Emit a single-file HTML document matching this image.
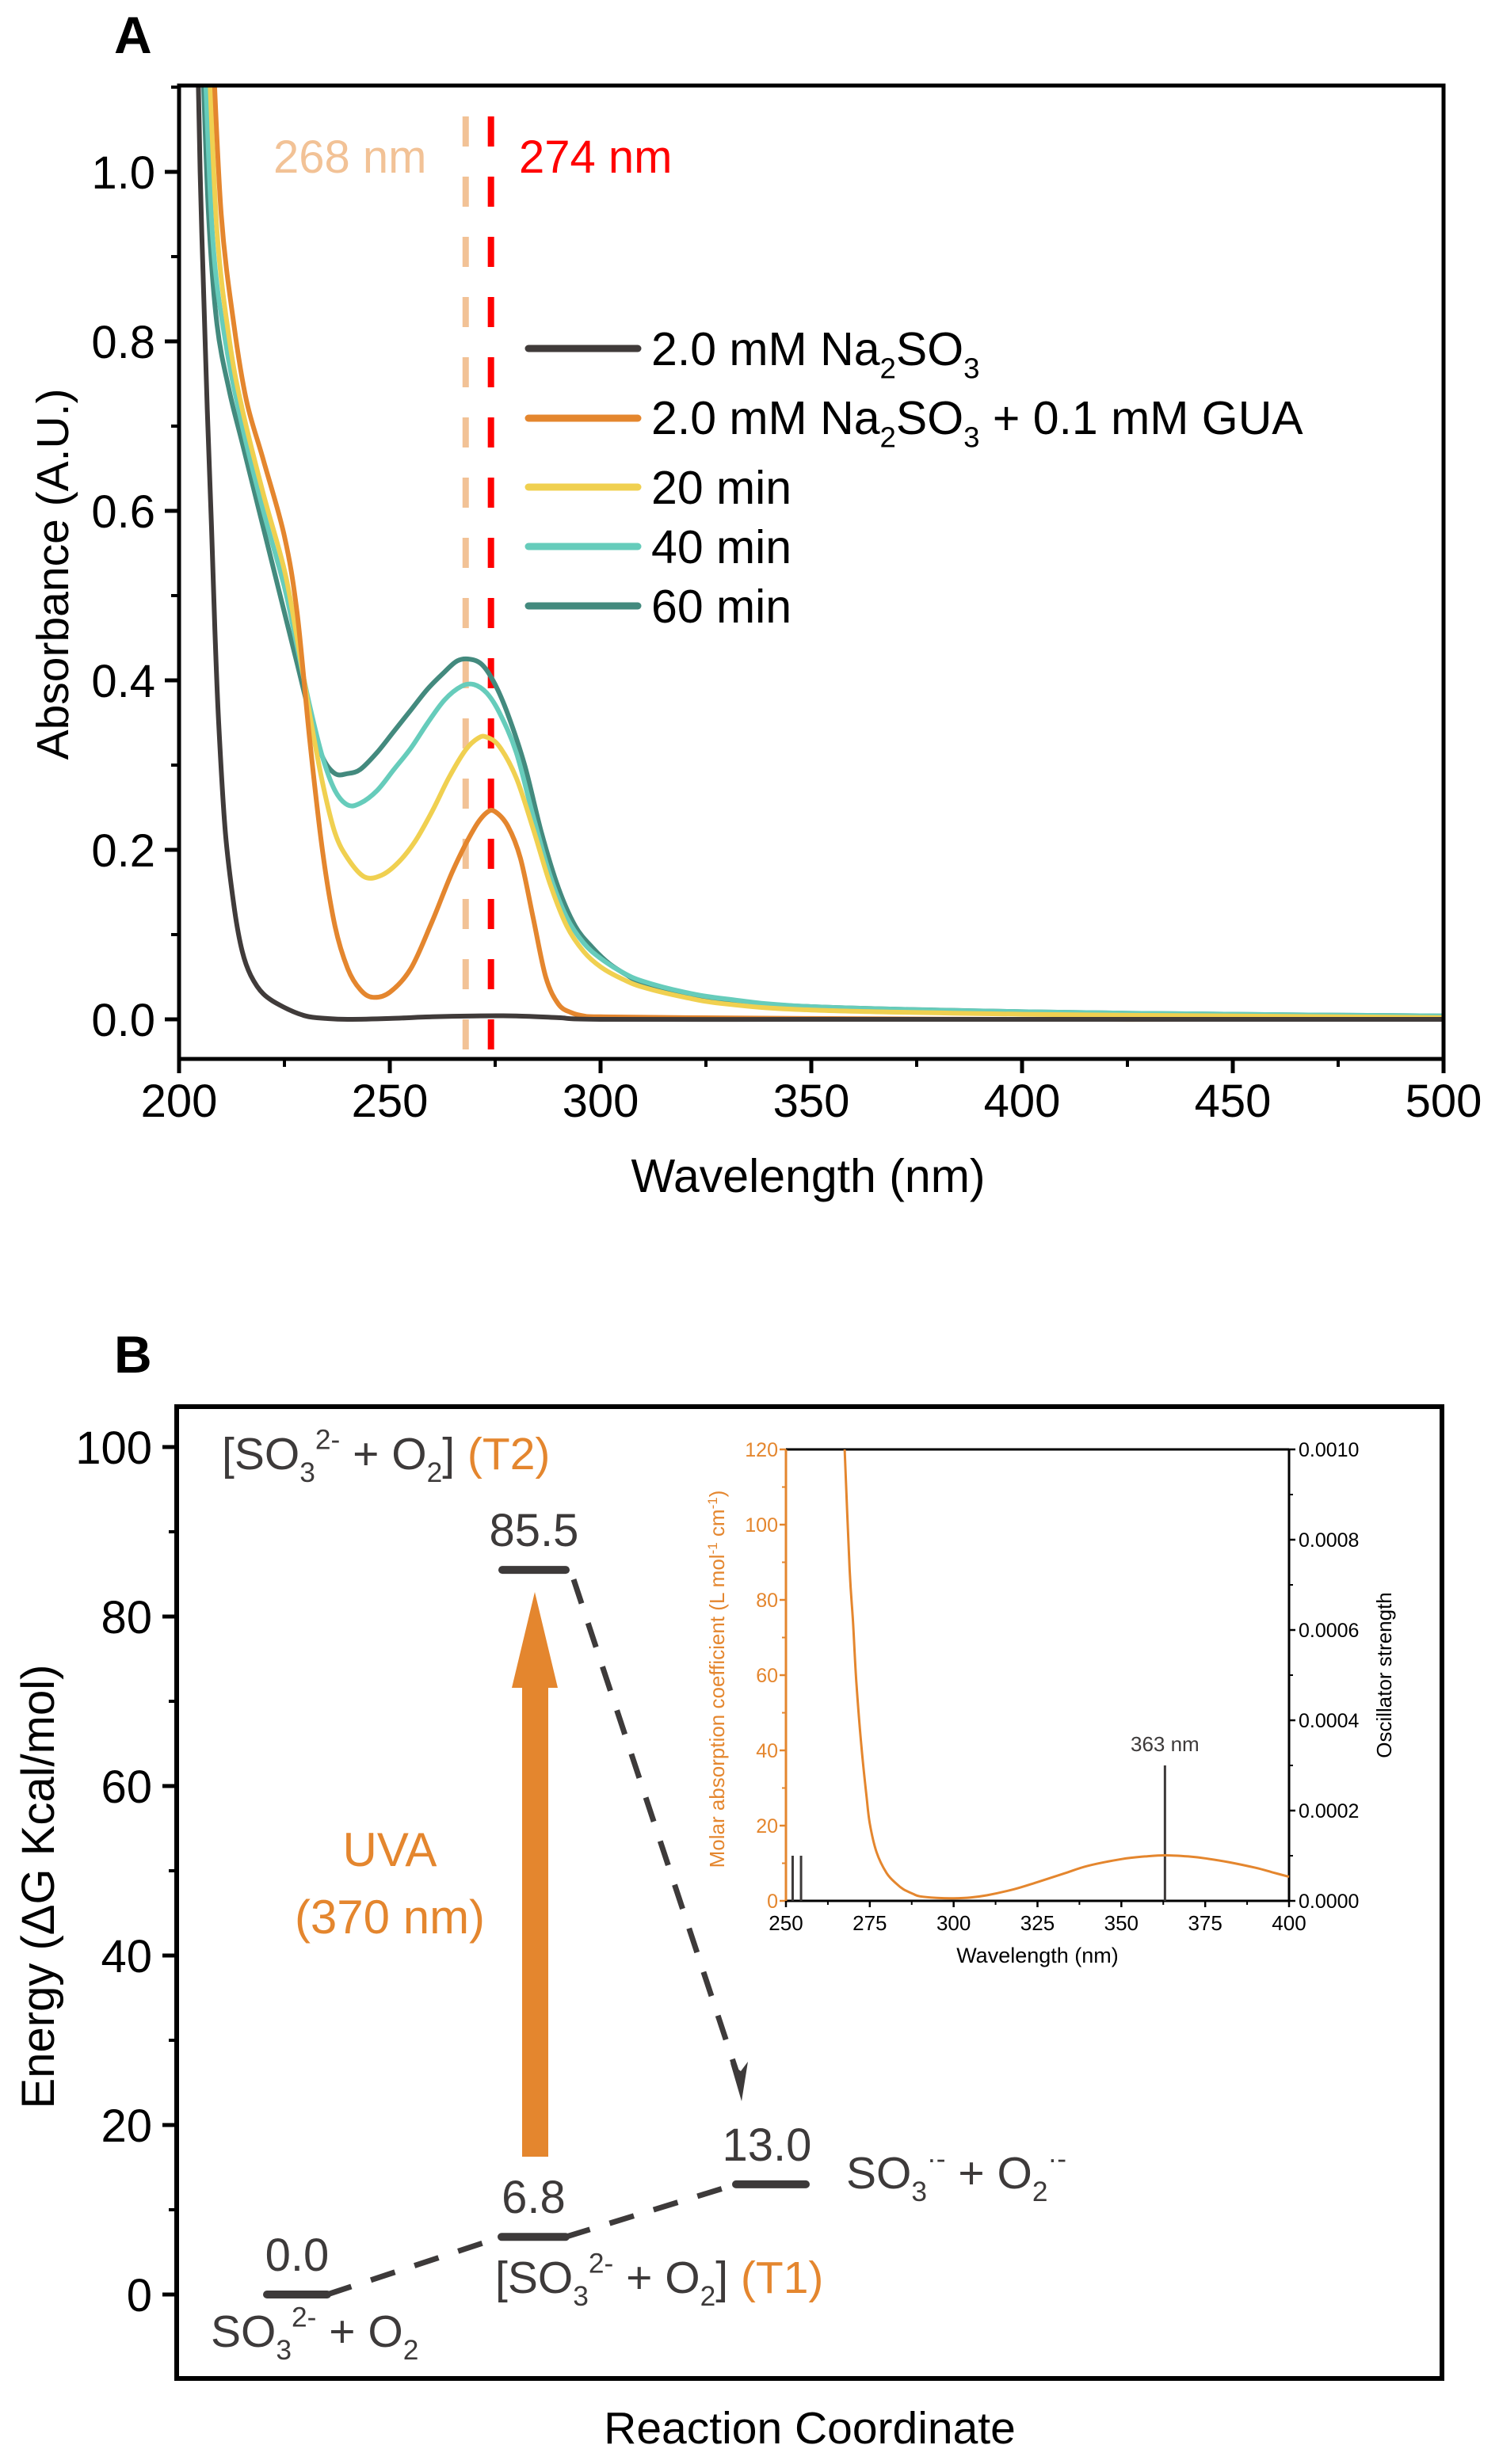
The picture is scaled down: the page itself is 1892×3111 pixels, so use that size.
<!DOCTYPE html>
<html><head><meta charset="utf-8"><style>
html,body{margin:0;padding:0;background:#fff}
svg{display:block}
text{font-family:"Liberation Sans",Arial,sans-serif}
</style></head><body>
<svg id="fig" width="1892" height="3111" viewBox="0 0 1892 3111" xmlns="http://www.w3.org/2000/svg">
<g id="pa"></g>
<g id="pb"></g>
</svg>
<script>
// ---------- Panel A data ----------
const nmBlack=[204,205,205.7,206.7,207.7,208.5,209.4,211,213.2,215,217,220,224.6,230,235,240,250,260,270,280,290,300,350,400,450,500];
const absBlack=[1.25,1.0,0.88,0.72,0.58,0.46,0.35,0.22,0.128,0.08,0.052,0.03,0.015,0.004,0.001,0.0,0.001,0.003,0.004,0.004,0.002,0.0,0.0,0.0,0.0,0.0];
const nmOrange=[208,210,213,216,220,225,228,231,234,237,240,243,246,250,255,260,265,270,273,275,278,281,284,287,290,293,296,300,320,350,400,450,500];
const absOrange=[1.15,0.95,0.82,0.73,0.66,0.57,0.48,0.33,0.2,0.11,0.06,0.035,0.026,0.032,0.06,0.115,0.176,0.225,0.244,0.245,0.228,0.19,0.12,0.05,0.018,0.008,0.004,0.003,0.002,0.001,0.0,0.0,0.0];
const nm20=[207,209,212,215,220,225,228,231,234,237,240,244,248,252,256,260,264,268,271,273,276,280,284,288,292,296,300,305,310,320,330,350,400,450,500];
const abs20=[1.15,0.93,0.8,0.72,0.62,0.53,0.45,0.36,0.28,0.22,0.19,0.168,0.17,0.185,0.21,0.245,0.285,0.318,0.332,0.333,0.322,0.285,0.225,0.16,0.11,0.08,0.062,0.048,0.038,0.026,0.018,0.011,0.006,0.004,0.002];
const nm40=[206,208,211,215,220,225,228,231,234,237,240,243,247,251,255,259,263,267,270,273,276,280,284,288,292,296,300,305,310,320,330,350,400,450,500];
const abs40=[1.15,0.92,0.8,0.7,0.6,0.51,0.44,0.37,0.31,0.27,0.253,0.255,0.27,0.295,0.32,0.35,0.377,0.393,0.395,0.385,0.362,0.315,0.24,0.17,0.12,0.09,0.072,0.056,0.045,0.032,0.024,0.015,0.009,0.006,0.004];
const nm60=[205.5,207,209,212,215,220,225,228,231,234,237,240,243,247,251,255,259,263,266,269,272,275,278,282,286,290,294,298,302,306,310,320,330,350,400,450,500];
const abs60=[1.15,0.95,0.82,0.74,0.68,0.58,0.48,0.42,0.36,0.31,0.29,0.29,0.295,0.315,0.34,0.365,0.39,0.41,0.423,0.425,0.418,0.395,0.36,0.3,0.22,0.155,0.11,0.085,0.066,0.053,0.043,0.031,0.023,0.015,0.009,0.006,0.004];
const xTicksA=[200,250,300,350,400,450,500];
const yTicksA=[0.0,0.2,0.4,0.6,0.8,1.0];
const legendLabels=["2.0 mM Na2SO3","2.0 mM Na2SO3 + 0.1 mM GUA","20 min","40 min","60 min"];
const markerLines=[268,274];
// ---------- Panel B data ----------
const levelNames=["reactant","T1","T2","product"];
const levelEnergy=[0.0,6.8,85.5,13.0];
const yTicksB=[0,20,40,60,80,100];
// inset
const insetNm=[267.5,269,270,271,272.5,274,275,277,280,283,285,288,290,295,300,305,310,318,325,333,340,350,357,363,370,375,382,390,395,400];
const insetEps=[120,88,74,58,41,28,20.6,13,7.4,4.5,3.1,1.8,1.2,0.8,0.7,0.9,1.5,3.1,5,7.3,9.3,11.1,11.8,12.1,11.8,11.3,10.3,8.8,7.6,6.4];
const stickNm=[252,254.5,363];
const stickF=[0.0001,0.0001,0.0003];
const insetXTicks=[250,275,300,325,350,375,400];
const insetYTicks=[0,20,40,60,80,100,120];
const insetY2Ticks=[0.0000,0.0002,0.0004,0.0006,0.0008,0.0010];

const NS="http://www.w3.org/2000/svg";
function mk(parent,tag,attrs){const e=document.createElementNS(NS,tag);for(const k in attrs)e.setAttribute(k,attrs[k]);parent.appendChild(e);return e;}
function smooth(pts){let d="M"+pts[0][0].toFixed(1)+","+pts[0][1].toFixed(1);
 for(let i=0;i<pts.length-1;i++){const p0=pts[i-1]||pts[i],p1=pts[i],p2=pts[i+1],p3=pts[i+2]||p2;
  const c1=[p1[0]+(p2[0]-p0[0])/6,p1[1]+(p2[1]-p0[1])/6],c2=[p2[0]-(p3[0]-p1[0])/6,p2[1]-(p3[1]-p1[1])/6];
  d+=" C"+c1[0].toFixed(1)+","+c1[1].toFixed(1)+" "+c2[0].toFixed(1)+","+c2[1].toFixed(1)+" "+p2[0].toFixed(1)+","+p2[1].toFixed(1);}
 return d;}
function chem(parent,x,y,parts,size,name){const t=mk(parent,'text',{x:x,y:y,'font-size':size});
 
 
 parts.forEach(p=>{const s=mk(t,'tspan',{fill:p.c||'#3d3a3a'});
  if(p.sub){s.setAttribute('font-size',size*0.62);s.setAttribute('dy',size*0.28);}
  if(p.sup){s.setAttribute('font-size',size*0.62);s.setAttribute('dy',-size*0.45);}
  if(p.back){s.setAttribute('dy',p.back);}
  s.textContent=p.t;});return t;}

// ================= Panel A =================
const A=document.getElementById('pa');
const L=226,R=1822,T=108,B=1337;
const X=v=>L+(v-200)*(R-L)/300;
const Y=v=>1287-v*1070;
mk(A,'clipPath',{id:'clipA'}).appendChild(document.createElementNS(NS,'rect'));
const cr=A.querySelector('#clipA rect');cr.setAttribute('x',L);cr.setAttribute('y',T);cr.setAttribute('width',R-L);cr.setAttribute('height',B-T);
let t=mk(A,'text',{x:144,y:67,'font-size':66,'font-weight':'bold'});t.textContent='A';


const mcol=['#f2c296','#ff0000'];
markerLines.forEach((m,i)=>{const l=mk(A,'line',{x1:X(m),x2:X(m),y1:147,y2:B,stroke:mcol[i],'stroke-width':8,'stroke-dasharray':'38 38'});
 
 });
t=mk(A,'text',{x:345,y:218,'font-size':58,fill:'#f2c296'});t.textContent='268 nm';


t=mk(A,'text',{x:655,y:218,'font-size':58,fill:'#ff0000'});t.textContent='274 nm';


const series=[[nmBlack,absBlack,'#403b3a','curve-na2so3'],[nmOrange,absOrange,'#e4862e','curve-na2so3-gua'],[nm20,abs20,'#f0d050','curve-20min'],[nm40,abs40,'#66ccbb','curve-40min'],[nm60,abs60,'#438a7e','curve-60min']];
const cg=mk(A,'g',{'clip-path':'url(#clipA)'});
[4,3,2,1,0].forEach(i=>{const s=series[i];const pts=s[0].map((n,j)=>[X(n),Y(s[1][j])]);
 const p=mk(cg,'path',{d:smooth(pts),fill:'none',stroke:s[2],'stroke-width':6,'stroke-linejoin':'round'});
 
 });
const ly=[440,528,615,690,765];
const LF=59;
series.forEach((s,i)=>{const l=mk(A,'line',{x1:667,x2:805,y1:ly[i],y2:ly[i],stroke:s[2],'stroke-width':9,'stroke-linecap':'round'});
 
 });
chem(A,822,461,[{t:'2.0 mM Na'},{t:'2',sub:1},{t:'SO',back:-LF*0.28},{t:'3',sub:1}],LF,'legend-entry-1');
chem(A,822,548,[{t:'2.0 mM Na'},{t:'2',sub:1},{t:'SO',back:-LF*0.28},{t:'3',sub:1},{t:' + 0.1 mM GUA',back:-LF*0.28}],LF,'legend-entry-2');
[2,3,4].forEach(i=>{const tt=mk(A,'text',{x:822,y:ly[i]+21,'font-size':LF,fill:'#000'});tt.textContent=legendLabels[i];
 
 });
A.querySelectorAll('text tspan').forEach(s=>{s.setAttribute('fill','#000');});
const fr=mk(A,'rect',{x:L,y:T,width:R-L,height:B-T,fill:'none',stroke:'#000','stroke-width':5});


yTicksA.forEach(v=>{mk(A,'line',{x1:L-18,x2:L,y1:Y(v),y2:Y(v),stroke:'#000','stroke-width':5});
 const tx=mk(A,'text',{x:196,y:Y(v)+21,'font-size':58,'text-anchor':'end'});tx.textContent=v.toFixed(1);
 
 });
for(let v=0.1;v<1.1;v+=0.2)mk(A,'line',{x1:L-10,x2:L,y1:Y(v),y2:Y(v),stroke:'#000','stroke-width':4});
xTicksA.forEach(v=>{mk(A,'line',{x1:X(v),x2:X(v),y1:B,y2:B+18,stroke:'#000','stroke-width':5});
 const tx=mk(A,'text',{x:X(v),y:1410,'font-size':58,'text-anchor':'middle'});tx.textContent=v;
 
 });
for(let v=225;v<500;v+=50)mk(A,'line',{x1:X(v),x2:X(v),y1:B,y2:B+10,stroke:'#000','stroke-width':4});
t=mk(A,'text',{x:1020,y:1505,'font-size':59,'text-anchor':'middle'});t.textContent='Wavelength (nm)';


t=mk(A,'text',{x:0,y:0,'font-size':57,'text-anchor':'middle',transform:'translate(86,725) rotate(-90)'});t.textContent='Absorbance (A.U.)';



// ================= Panel B =================
const P=document.getElementById('pb');
const BL=223,BR=1820,BT=1776,BB=3003;
const YE=v=>2897-v*10.7;
t=mk(P,'text',{x:144,y:1733,'font-size':66,'font-weight':'bold'});t.textContent='B';


const fb=mk(P,'rect',{x:BL,y:BT,width:BR-BL,height:BB-BT,fill:'none',stroke:'#000','stroke-width':6});


yTicksB.forEach(v=>{mk(P,'line',{x1:BL-18,x2:BL,y1:YE(v),y2:YE(v),stroke:'#000','stroke-width':5});
 const tx=mk(P,'text',{x:192,y:YE(v)+21,'font-size':58,'text-anchor':'end'});tx.textContent=v;
 
 });
for(let v=10;v<100;v+=20)mk(P,'line',{x1:BL-10,x2:BL,y1:YE(v),y2:YE(v),stroke:'#000','stroke-width':4});
t=mk(P,'text',{x:0,y:0,'font-size':58,'text-anchor':'middle',transform:'translate(68,2382) rotate(-90)'});t.textContent='Energy (ΔG Kcal/mol)';


t=mk(P,'text',{x:1022,y:3085,'font-size':57,'text-anchor':'middle'});t.textContent='Reaction Coordinate';


const lvx=[[337,413],[633,714],[634,714],[929,1017]];
levelEnergy.forEach((e,i)=>{const l=mk(P,'line',{x1:lvx[i][0],x2:lvx[i][1],y1:YE(e),y2:YE(e),stroke:'#3d3a3a','stroke-width':10,'stroke-linecap':'round'});
 
 
 const tx=mk(P,'text',{x:(lvx[i][0]+lvx[i][1])/2+(i==3?-5:0),y:YE(e)-30,'font-size':58,'text-anchor':'middle',fill:'#3d3a3a'});tx.textContent=e.toFixed(1);
 
 });
const dash={stroke:'#3d3a3a','stroke-width':7,'stroke-dasharray':'32 26',fill:'none'};
let dl=mk(P,'line',Object.assign({x1:lvx[0][1],y1:YE(levelEnergy[0]),x2:lvx[1][0],y2:YE(levelEnergy[1])},dash));


dl=mk(P,'line',Object.assign({x1:lvx[1][1],y1:YE(levelEnergy[1]),x2:lvx[3][0],y2:YE(levelEnergy[3])},dash));


const tipY=2653,tipX=936;
dl=mk(P,'line',Object.assign({x1:lvx[2][1]+10,y1:YE(levelEnergy[2])+12,x2:tipX-4,y2:tipY-30},dash));


const ah=mk(P,'polygon',{points:`${tipX},${tipY} ${tipX-14},${tipY-48} ${tipX-1},${tipY-38} ${tipX+8},${tipY-50}`,fill:'#3d3a3a'});


const ua=mk(P,'polygon',{points:'659,2723 692,2723 692,2131 704,2131 675,2010 646,2131 659,2131',fill:'#e4862e'});


t=mk(P,'text',{x:492,y:2356,'font-size':60,'text-anchor':'middle',fill:'#e4862e'});t.textContent='UVA';


t=mk(P,'text',{x:492,y:2441,'font-size':60,'text-anchor':'middle',fill:'#e4862e'});t.textContent='(370 nm)';


const f=57,dn=-f*0.28,up=f*0.45;
chem(P,280,1855,[{t:'[SO'},{t:'3',sub:1},{t:'2-',sup:1,back:-(f*0.28+f*0.45)},{t:' + O',back:up},{t:'2',sub:1},{t:']',back:dn},{t:' (T2)',c:'#e4862e'}],f,'species-t2');
chem(P,625,2895,[{t:'[SO'},{t:'3',sub:1},{t:'2-',sup:1,back:-(f*0.28+f*0.45)},{t:' + O',back:up},{t:'2',sub:1},{t:']',back:dn},{t:' (T1)',c:'#e4862e'}],f,'species-t1');
chem(P,266,2963,[{t:'SO'},{t:'3',sub:1},{t:'2-',sup:1,back:-(f*0.28+f*0.45)},{t:' + O',back:up},{t:'2',sub:1}],f,'species-reactant');
chem(P,1068,2763,[{t:'SO'},{t:'3',sub:1},{t:'·-',sup:1,back:-(f*0.28+f*0.45)},{t:' + O',back:up},{t:'2',sub:1},{t:'·-',sup:1,back:-(f*0.28+f*0.45)}],f,'species-product');
// ---------- Inset ----------
const I=mk(P,'g',{});


const IL=992,IR=1627,IT=1830,IB=2400;
const IX=v=>IL+(v-250)*(IR-IL)/150;
const IY=v=>IB-v*(IB-IT)/120;
const IY2=v=>IB-v*(IB-IT)/0.001;
const O='#e4862e';
mk(I,'line',{x1:IL,x2:IR,y1:IT,y2:IT,stroke:'#000','stroke-width':3});
mk(I,'line',{x1:IL,x2:IR,y1:IB,y2:IB,stroke:'#000','stroke-width':3});
mk(I,'line',{x1:IR,x2:IR,y1:IT,y2:IB,stroke:'#000','stroke-width':3});
mk(I,'line',{x1:IL,x2:IL,y1:IT,y2:IB,stroke:O,'stroke-width':3});
insetYTicks.forEach(v=>{mk(I,'line',{x1:IL-8,x2:IL,y1:IY(v),y2:IY(v),stroke:O,'stroke-width':2.5});
 const tx=mk(I,'text',{x:IL-10,y:IY(v)+9,'font-size':25,'text-anchor':'end',fill:O});tx.textContent=v;
 
 });
for(let v=10;v<120;v+=20)mk(I,'line',{x1:IL-5,x2:IL,y1:IY(v),y2:IY(v),stroke:O,'stroke-width':2});
insetY2Ticks.forEach(v=>{mk(I,'line',{x1:IR,x2:IR+8,y1:IY2(v),y2:IY2(v),stroke:'#000','stroke-width':2.5});
 const tx=mk(I,'text',{x:IR+12,y:IY2(v)+9,'font-size':25,fill:'#000'});tx.textContent=v.toFixed(4);
 
 });
for(let v=0.0001;v<0.001;v+=0.0002)mk(I,'line',{x1:IR,x2:IR+5,y1:IY2(v),y2:IY2(v),stroke:'#000','stroke-width':2});
insetXTicks.forEach(v=>{mk(I,'line',{x1:IX(v),x2:IX(v),y1:IB,y2:IB+8,stroke:'#000','stroke-width':2.5});
 const tx=mk(I,'text',{x:IX(v),y:IB+37,'font-size':26,'text-anchor':'middle'});tx.textContent=v;
 
 });
for(let v=262.5;v<400;v+=25)mk(I,'line',{x1:IX(v),x2:IX(v),y1:IB,y2:IB+5,stroke:'#000','stroke-width':2});
t=mk(I,'text',{x:(IL+IR)/2,y:2478,'font-size':27,'text-anchor':'middle'});t.textContent='Wavelength (nm)';


t=mk(I,'text',{x:0,y:0,'font-size':26,'text-anchor':'middle',fill:O,transform:'translate(914,2120) rotate(-90)'});


t.innerHTML='Molar absorption coefficient (L mol<tspan dy="-9" font-size="17">-1</tspan><tspan dy="9"> cm</tspan><tspan dy="-9" font-size="17">-1</tspan><tspan dy="9">)</tspan>';
t=mk(I,'text',{x:0,y:0,'font-size':26,'text-anchor':'middle',transform:'translate(1756,2115) rotate(-90)'});t.textContent='Oscillator strength';


stickNm.forEach((n,i)=>{const l=mk(I,'line',{x1:IX(n),x2:IX(n),y1:IB,y2:IY2(stickF[i]),stroke:'#3d3a3a','stroke-width':3});
 
 });
t=mk(I,'text',{x:IX(363),y:IY2(0.0003)-18,'font-size':26,'text-anchor':'middle',fill:'#3d3a3a'});t.textContent='363 nm';


const ip=mk(I,'path',{d:smooth(insetNm.map((n,j)=>[IX(n),IY(insetEps[j])])),fill:'none',stroke:O,'stroke-width':3});


</script>
</body></html>
